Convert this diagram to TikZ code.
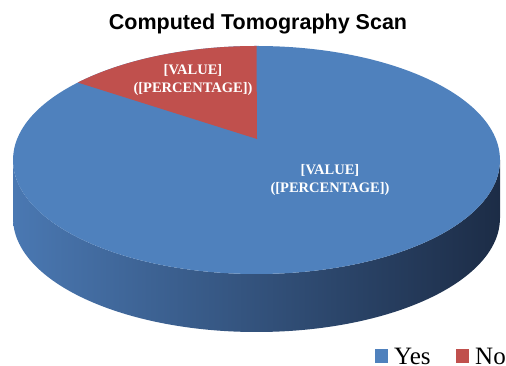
\documentclass[tikz,border=0pt]{standalone}
\usepackage{fontspec}
\setmainfont{Liberation Serif}
\newfontfamily\titlefont{Liberation Sans}
\definecolor{cYes}{RGB}{79,129,189}
\definecolor{cNo}{RGB}{192,80,77}
\definecolor{cSideL}{RGB}{74,120,178}
\definecolor{cSideM}{RGB}{44,74,115}
\definecolor{cSideR}{RGB}{28,44,70}

\begin{document}
\begin{tikzpicture}[x=1pt,y=1pt,
  lbl/.style={align=center,text=white,inner sep=0pt,font=\bfseries\fontsize{14.5}{18}\selectfont},
  key/.style={anchor=base west,inner sep=0pt,font=\fontsize{25}{30}\selectfont}]
\useasboundingbox (0,0) rectangle (506,366);
% side of the disc
\shade[left color=cSideL,middle color=cSideM,right color=cSideR]
  (13,206) -- (13,148) arc[start angle=180,end angle=360,x radius=243.5,y radius=114]
  -- (500,206) arc[start angle=0,end angle=-180,x radius=243.5,y radius=114] -- cycle;
% top face
\fill[cYes] (256.5,206) ellipse[x radius=243.5,y radius=114];
\fill[cNo] (257,227) -- (256.5,320) arc[start angle=90,end angle=137.2,x radius=243.5,y radius=114] -- cycle;
\node[anchor=base,font=\titlefont\bfseries\fontsize{21.5}{26}\selectfont] (title) at (258,336) {Computed Tomography Scan};
\node[lbl] (noLbl) at (193,286) {[VALUE]\\([PERCENTAGE])};
\node[lbl] (yesLbl) at (330,186) {[VALUE]\\([PERCENTAGE])};
% legend
\fill[cYes] (375,3) rectangle (388,17);
\node[key] (yesKey) at (394,1.5) {Yes};
\fill[cNo] (456,3) rectangle (469,17);
\node[key] (noKey) at (475,1.5) {No};
\end{tikzpicture}
\end{document}
